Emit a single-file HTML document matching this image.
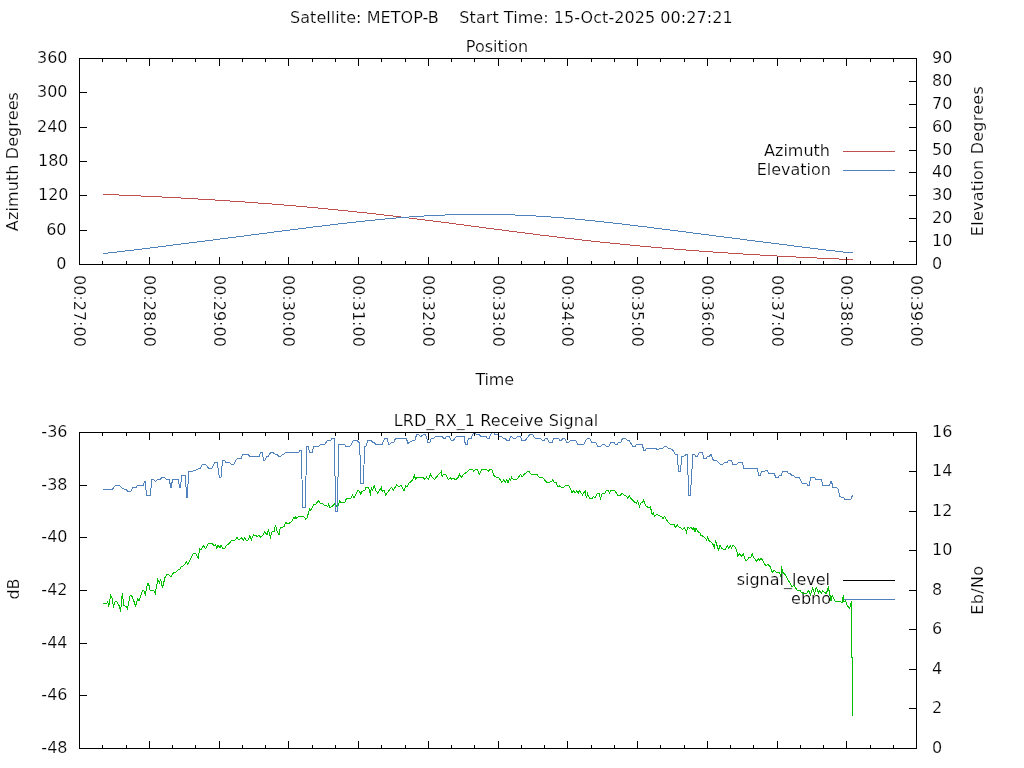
<!DOCTYPE html>
<html lang="en"><head><meta charset="utf-8"><title>Satellite: METOP-B</title>
<style>html,body{margin:0;padding:0;background:#fff;overflow:hidden}svg{display:block}text{font-family:"DejaVu Sans","Liberation Sans",sans-serif;font-size:16px;fill:#000;stroke:#fff;stroke-width:0.2px}.ln{shape-rendering:crispEdges;stroke-width:1;fill:none}</style>
</head><body>
<svg width="1024" height="768" viewBox="0 0 1024 768">
<rect width="1024" height="768" fill="#fff"/>
<!-- titles -->
<text x="511.3" y="23" text-anchor="middle" textLength="442.6" lengthAdjust="spacing">Satellite: METOP-B&#160;&#160;&#160;&#160;Start Time: 15-Oct-2025 00:27:21</text>
<text x="497" y="52" text-anchor="middle">Position</text>
<text x="496" y="426" text-anchor="middle" textLength="204.6" lengthAdjust="spacing">LRD_RX_1 Receive Signal</text>
<!-- y tick labels -->
<text x="66.5" y="269" text-anchor="end">0</text>
<text x="66.5" y="235" text-anchor="end">60</text>
<text x="68.5" y="200" text-anchor="end">120</text>
<text x="68.5" y="166" text-anchor="end">180</text>
<text x="67.5" y="132" text-anchor="end">240</text>
<text x="67.5" y="97" text-anchor="end">300</text>
<text x="67.5" y="63" text-anchor="end">360</text>
<text x="932" y="269">0</text>
<text x="932" y="246">10</text>
<text x="932" y="223">20</text>
<text x="932" y="200">30</text>
<text x="932" y="177">40</text>
<text x="932" y="155">50</text>
<text x="932" y="132">60</text>
<text x="932" y="109">70</text>
<text x="932" y="86">80</text>
<text x="932" y="63">90</text>
<text x="67.5" y="753" text-anchor="end">-48</text>
<text x="67.5" y="700" text-anchor="end">-46</text>
<text x="67.5" y="648" text-anchor="end">-44</text>
<text x="67.5" y="595" text-anchor="end">-42</text>
<text x="67.5" y="542" text-anchor="end">-40</text>
<text x="67.5" y="490" text-anchor="end">-38</text>
<text x="67.5" y="437" text-anchor="end">-36</text>
<text x="932" y="753">0</text>
<text x="932" y="713">2</text>
<text x="932" y="674">4</text>
<text x="932" y="634">6</text>
<text x="932" y="595">8</text>
<text x="932" y="555">10</text>
<text x="932" y="516">12</text>
<text x="932" y="476">14</text>
<text x="932" y="437">16</text>
<!-- x tick labels -->
<text x="74" y="275" transform="rotate(90 74 275)">00:27:00</text>
<text x="144" y="275" transform="rotate(90 144 275)">00:28:00</text>
<text x="214" y="275" transform="rotate(90 214 275)">00:29:00</text>
<text x="283" y="275" transform="rotate(90 283 275)">00:30:00</text>
<text x="353" y="275" transform="rotate(90 353 275)">00:31:00</text>
<text x="423" y="275" transform="rotate(90 423 275)">00:32:00</text>
<text x="493" y="275" transform="rotate(90 493 275)">00:33:00</text>
<text x="562" y="275" transform="rotate(90 562 275)">00:34:00</text>
<text x="632" y="275" transform="rotate(90 632 275)">00:35:00</text>
<text x="702" y="275" transform="rotate(90 702 275)">00:36:00</text>
<text x="772" y="275" transform="rotate(90 772 275)">00:37:00</text>
<text x="841" y="275" transform="rotate(90 841 275)">00:38:00</text>
<text x="911" y="275" transform="rotate(90 911 275)">00:39:00</text>
<!-- axis labels -->
<text x="494.8" y="385" text-anchor="middle" textLength="38.5" lengthAdjust="spacing">Time</text>
<text x="18" y="161.6" text-anchor="middle" transform="rotate(-90 18 161.6)" textLength="139.1" lengthAdjust="spacing">Azimuth Degrees</text>
<text x="983" y="161.2" text-anchor="middle" transform="rotate(-90 983 161.2)" textLength="149.9" lengthAdjust="spacing">Elevation Degrees</text>
<text x="19" y="589" text-anchor="middle" transform="rotate(-90 19 589)">dB</text>
<text x="983" y="590.3" text-anchor="middle" transform="rotate(-90 983 590.3)" textLength="48.7" lengthAdjust="spacing">Eb/No</text>
<!-- keys -->
<text x="830" y="156" text-anchor="end">Azimuth</text>
<text x="831" y="175" text-anchor="end">Elevation</text>
<text x="830" y="585" text-anchor="end">signal_level</text>
<text x="831" y="604" text-anchor="end">ebno</text>
<g class="ln">
<path stroke="#c0504d" d="M843 151.5H895"/>
<path stroke="#4f81bd" d="M843 170.5H895"/>
<path stroke="#000" d="M843 580.5H895"/>
<path stroke="#4f81bd" d="M843 599.5H895"/>
<!-- curves -->
<path stroke="#c0504d" stroke-linecap="square" d="M103.5 194.5L118.5 194.5L119.5 195.5L140.5 195.5L141.5 196.5L161.5 196.5L162.5 197.5L180.5 197.5L181.5 198.5L197.5 198.5L198.5 199.5L214.5 199.5L215.5 200.5L229.5 200.5L230.5 201.5L244.5 201.5L245.5 202.5L257.5 202.5L258.5 203.5L271.5 203.5L272.5 204.5L283.5 204.5L284.5 205.5L295.5 205.5L296.5 206.5L306.5 206.5L307.5 207.5L317.5 207.5L318.5 208.5L327.5 208.5L328.5 209.5L337.5 209.5L338.5 210.5L347.5 210.5L348.5 211.5L356.5 211.5L357.5 212.5L366.5 212.5L367.5 213.5L375.5 213.5L376.5 214.5L383.5 214.5L384.5 215.5L392.5 215.5L393.5 216.5L400.5 216.5L401.5 217.5L408.5 217.5L409.5 218.5L416.5 218.5L417.5 219.5L424.5 219.5L425.5 220.5L432.5 220.5L433.5 221.5L440.5 221.5L441.5 222.5L448.5 222.5L449.5 223.5L455.5 223.5L456.5 224.5L463.5 224.5L464.5 225.5L470.5 225.5L471.5 226.5L478.5 226.5L479.5 227.5L485.5 227.5L486.5 228.5L493.5 228.5L494.5 229.5L501.5 229.5L502.5 230.5L508.5 230.5L509.5 231.5L516.5 231.5L517.5 232.5L524.5 232.5L525.5 233.5L532.5 233.5L533.5 234.5L539.5 234.5L540.5 235.5L548.5 235.5L549.5 236.5L556.5 236.5L557.5 237.5L564.5 237.5L565.5 238.5L573.5 238.5L574.5 239.5L581.5 239.5L582.5 240.5L590.5 240.5L591.5 241.5L599.5 241.5L600.5 242.5L609.5 242.5L610.5 243.5L619.5 243.5L620.5 244.5L629.5 244.5L630.5 245.5L639.5 245.5L640.5 246.5L650.5 246.5L651.5 247.5L661.5 247.5L662.5 248.5L673.5 248.5L674.5 249.5L685.5 249.5L686.5 250.5L698.5 250.5L699.5 251.5L712.5 251.5L713.5 252.5L727.5 252.5L728.5 253.5L742.5 253.5L743.5 254.5L759.5 254.5L760.5 255.5L776.5 255.5L777.5 256.5L795.5 256.5L796.5 257.5L816.5 257.5L817.5 258.5L838.5 258.5L839.5 259.5L852.5 259.5"/>
<path stroke="#4f81bd" stroke-linecap="square" d="M103.5 253.5L107.5 253.5L108.5 252.5L116.5 252.5L117.5 251.5L124.5 251.5L125.5 250.5L133.5 250.5L134.5 249.5L141.5 249.5L142.5 248.5L149.5 248.5L150.5 247.5L157.5 247.5L158.5 246.5L165.5 246.5L166.5 245.5L172.5 245.5L173.5 244.5L180.5 244.5L181.5 243.5L188.5 243.5L189.5 242.5L196.5 242.5L197.5 241.5L204.5 241.5L205.5 240.5L212.5 240.5L213.5 239.5L219.5 239.5L220.5 238.5L227.5 238.5L228.5 237.5L235.5 237.5L236.5 236.5L243.5 236.5L244.5 235.5L250.5 235.5L251.5 234.5L258.5 234.5L259.5 233.5L266.5 233.5L267.5 232.5L273.5 232.5L274.5 231.5L281.5 231.5L282.5 230.5L289.5 230.5L290.5 229.5L297.5 229.5L298.5 228.5L305.5 228.5L306.5 227.5L312.5 227.5L313.5 226.5L321.5 226.5L322.5 225.5L329.5 225.5L330.5 224.5L337.5 224.5L338.5 223.5L346.5 223.5L347.5 222.5L355.5 222.5L356.5 221.5L364.5 221.5L365.5 220.5L374.5 220.5L375.5 219.5L384.5 219.5L385.5 218.5L395.5 218.5L396.5 217.5L408.5 217.5L409.5 216.5L423.5 216.5L424.5 215.5L444.5 215.5L445.5 214.5L514.5 214.5L515.5 215.5L535.5 215.5L536.5 216.5L550.5 216.5L551.5 217.5L563.5 217.5L564.5 218.5L574.5 218.5L575.5 219.5L584.5 219.5L585.5 220.5L594.5 220.5L595.5 221.5L603.5 221.5L604.5 222.5L612.5 222.5L613.5 223.5L621.5 223.5L622.5 224.5L629.5 224.5L630.5 225.5L637.5 225.5L638.5 226.5L646.5 226.5L647.5 227.5L653.5 227.5L654.5 228.5L661.5 228.5L662.5 229.5L669.5 229.5L670.5 230.5L677.5 230.5L678.5 231.5L685.5 231.5L686.5 232.5L692.5 232.5L693.5 233.5L700.5 233.5L701.5 234.5L708.5 234.5L709.5 235.5L715.5 235.5L716.5 236.5L723.5 236.5L724.5 237.5L731.5 237.5L732.5 238.5L739.5 238.5L740.5 239.5L746.5 239.5L747.5 240.5L754.5 240.5L755.5 241.5L762.5 241.5L763.5 242.5L770.5 242.5L771.5 243.5L778.5 243.5L779.5 244.5L786.5 244.5L787.5 245.5L793.5 245.5L794.5 246.5L801.5 246.5L802.5 247.5L809.5 247.5L810.5 248.5L817.5 248.5L818.5 249.5L825.5 249.5L826.5 250.5L834.5 250.5L835.5 251.5L842.5 251.5L843.5 252.5L852.5 252.5"/>
<path stroke="#00c000" stroke-linecap="square" d="M103.12 603.5L106.88 603.12L107.75 601.5L108.75 606.88L110.62 595.25L111.88 597.5L113.5 606.25L115.25 601.25L116.88 601.5L119.38 606.25L120.62 611.5L122.25 593.5L124 605.62L126.25 606.25L127.5 608.5L130 595.62L131.5 595.25L133.5 600L135.62 606.25L137.5 598.75L139 600.62L142.5 591L143.75 590.62L145.25 595L147.5 583.12L148.5 583.12L150 590L153.75 590.62L155.25 593.5L157.75 579.75L159.38 583.12L160.62 579.75L162.5 587.5L165 577.5L166.88 574.38L168.75 574.38L171 577.25L173.12 573.12L175.62 572.25L178.12 569.75L180 569L181.5 566.5L183.75 565.62L186.25 561.88L187.75 564.38L193.12 553.75L195.62 553.12L198.12 558.5L199.75 548.75L201 549.38L203.5 545.62L205.62 548.5L208.12 543.75L210 543.12L211.88 543.5L214.38 545.62L215.62 545L216.88 548.5L218.12 545.25L220 548.12L221 545.62L223.12 548.5L225 548.12L226.25 545.25L228 544.38L229.62 543.12L231.5 540.62L235.25 540L237.12 537.5L239 540L241.5 537.75L243.38 540L244.62 538.12L246.5 540.25L248.38 540L250 535.62L251.25 540.25L253.38 535L255.88 535.25L256.75 536.88L259 535.25L260.88 537.25L262.75 535.62L264.62 531.88L267.12 535L268.38 530L270.5 537.25L272.12 531.25L274 531.88L275.5 524.75L277.12 531.25L279 535L280.25 528.12L282.12 527.25L284 526.5L285.88 522.5L287.75 524L291.5 521.88L294 516.88L295 519.38L295.88 516.5L296.5 518.75L299 516.25L303.38 516.25L305.88 519.38L307.12 517.5L309.62 509L310.88 510.62L314 504.38L315.25 505L318.38 500.62L320.25 503.12L322.75 503.5L324 505L327.75 506.25L328.75 503.75L330 508.12L332.75 505.62L334.62 503.75L336.5 506.25L338.38 505L339.62 500.62L340.88 502.5L344.62 502.5L346.5 498.5L350.88 498.12L352.75 495L354 498.12L357.75 490.62L359.62 491.25L360.88 495L361.5 491.25L364.62 490.62L365.88 487.5L368.38 487.5L369.62 490.62L370.5 495.62L371.25 487.5L372.75 490L374.25 485.62L375.5 490L377.75 493.12L379.62 490L381.25 487.5L382.12 491.25L384 490L385.5 495L388.38 491.25L391.5 487.5L393.38 490L396.5 485L399 486.88L400.88 485L402.75 488.12L404 490.62L405.88 485.62L407.12 486.88L409 483.12L411.5 481.25L413 479.38L414.62 474.38L415.25 479.38L417.12 477.5L422.75 477.25L424.62 479.38L426.5 477.25L428.38 479.38L430.5 474.38L432.12 477.25L434.62 479.38L437.12 476.25L441.5 471.25L442.12 477.25L443.38 474L445.88 474.38L448.38 479.38L450.25 477.5L450.5 478.12L451.75 479.38L453.25 478.12L455.5 479.75L458 477.5L459.5 474.38L461.12 477.5L463.62 474.38L466.12 472.5L469.88 469.38L472.38 469.38L473.62 471.25L475.5 469.75L477.38 469.38L479.25 474L481.75 469.75L484.25 469L486.75 469.38L488.25 471.25L489.88 469.38L491.75 469.38L494.5 476.88L498.62 477.25L501.75 482.5L503.62 480L505.25 482.5L506.75 479.38L508 482.75L509.5 478.75L510.5 480L511.5 477.25L513.25 479.38L516.75 479.38L520.5 474.38L522 476.88L524.25 474.38L527.38 471.5L529.25 471.5L530.75 474L537.38 474.38L538.62 476.88L542.38 477.5L546.75 482.25L551.75 481.88L552.75 479.38L554 482.25L556.12 482.75L558 486.88L559.25 485.62L561.12 487.25L563.62 487.25L566.12 485.25L568.62 485.62L571.12 490L572 492.5L573.5 490.62L575.12 493.12L576.75 490.62L578.25 493.12L579.5 490.62L581 493.12L582.62 495L585.12 490.62L586.38 498.12L587.62 493.75L589.5 498.12L592 498.5L593.25 496.25L595.12 498.12L597 493.75L598.88 493.12L600.5 498.12L602 493.75L604.75 493.12L606.38 490.62L608.25 490.25L609.5 493.12L611 490.25L614.5 490.25L617.62 495L620.75 495L622.25 493.12L623.88 495L625.75 495.62L627.62 498.12L629.25 495.62L630.75 498.12L634.5 501.88L636.38 503.5L637.62 500.62L639.5 506.25L640.75 503.12L642 502.75L643.5 500.25L645.75 505.62L648.88 508.12L650.5 506.88L652 514.38L653.25 513.12L654.5 516.25L657 514L659.5 516L661.38 516.25L663.25 518.75L664.5 516.5L668.25 522.5L670.75 524.38L673.88 524.38L675.5 527.25L677.25 524.75L678.88 526.88L680.75 527.5L682.25 529.38L684.5 527.75L686.38 532.25L687.62 527.75L689.5 528.12L691.38 527.5L693 529.75L693.88 527.75L695.12 532.25L696 527.75L697.62 531.5L700 533.12L701 535.62L703.5 536.25L706.62 540L707.5 537.5L709.12 540.62L711.62 542.5L713.5 545L714.5 548.5L715.38 540L716.62 544.38L718.5 550L720 545.62L722.25 548.75L724.75 550L727.25 545.62L728.75 548.12L730.38 545.62L731.62 548.12L732.88 545L734.75 546.88L736.62 550L737.88 556.25L739.12 553.75L741.62 556.25L743.5 553.75L745.38 560.62L747.25 560L749.12 557.5L751 556.88L752.25 553.75L753.75 557.5L756.62 561.25L758.5 558.75L759.75 560.62L761 558.12L762.88 560.62L766 566.25L767.88 564.38L770.38 566.88L772.25 572.5L774.12 570L775.38 571.88L777.25 572.25L779.5 572.5L780.75 576.88L781.62 566.25L782.5 571.88L785.38 575L788.5 580.62L791.62 585.62L792 586.8L793.95 585.23L795.52 587.97L797.47 590.31L800.2 590.7L801.38 592.66L803.72 593.44L806.84 593.05L808.8 590.7L810.36 595L812.7 587.97L814.66 593.44L816.22 587.58L818.56 592.66L819.73 590.7L821.3 593.44L822.86 590.7L824.81 592.66L826.38 593.44L828.33 587.58L829.5 592.66L831.06 601.25L832.23 595.39L834.97 601.25L840.44 601.25L842 603.2L843.41 595.39L843.95 601.25L845.52 600.86L847.47 605.94L849.81 608.28L851.38 601.25L851.5 657.5L852.5 657.5L852.5 715"/>
<path stroke="#4f81bd" stroke-linecap="square" d="M103.12 489.5L112.25 489.5L115.25 485.5L119.38 485.5L123.12 488.75L126.25 489.5L127.75 491.25L131 491.25L132.75 487.5L136.25 487.25L137.5 485.5L143.12 485.5L144.75 481.25L145.25 481.25L146.5 495.25L150.25 495.25L151.88 479.5L153.12 479.5L155.62 481.5L157.5 479.75L160 479.5L162.5 477.25L164.38 477.25L166.25 479.5L169.38 479.5L170.62 487.25L171.25 487.25L172.5 479.5L178.12 479.5L179.62 487.25L180.25 487.25L181.88 475.5L185.38 475.5L186.62 497.5L187.25 497.5L188.75 471.5L192.5 471.25L196.25 470L198.75 468.5L200.62 468.25L202.25 464.5L205.62 464.5L208.75 468.25L211.88 468.25L215 462.5L217.25 462.5L219.38 477.25L221 477.25L222.5 460.25L224.38 460.25L225.62 462.25L229.38 462.25L231 464.25L234 464.25L235.62 460.25L237.5 458.5L241.25 458.25L242.75 454.5L248.12 454.5L249.75 456.25L259.38 456.25L260.62 452.5L262.12 452.5L263.75 460.25L265 460.25L266.5 456.5L268.12 456.25L270.62 452.5L273.12 452.5L275 454.25L277.25 454.5L278.75 456.25L281 456.25L282.5 454.5L284 454.25L285.62 452.5L298.75 452.5L300 450.25L301.25 450.25L301.5 450.5L302.5 507.5L305.5 507.5L306.5 446.5L306.62 446.25L308.12 446.25L309.75 452.5L312.25 452.5L313.75 446.5L318.75 446.25L320.62 444.5L325 444.25L327.25 440.5L330.62 440.25L331.88 438.5L334.38 438.5L334.5 438.5L335.5 511.5L337.5 511.5L338.5 444.5L338.75 444.5L344.62 444.5L345.88 446.25L350 446.25L351.5 444.25L353.38 440.5L357.12 440.25L358.75 442.25L359.62 442.5L360.25 462.5L360.88 483.5L363.38 483.5L364 465L364.62 446.25L366.25 446L367.5 440.5L371.25 440.5L372.75 442.25L374.25 442.5L375.88 444.5L382.12 444.5L383.75 440.5L384.62 438.5L387.12 438.5L388.38 444L389.62 444.5L391.5 442.5L393.75 442.25L395.5 438.5L406.5 438.5L407.5 442.5L408 444.25L409 442.5L413.38 440.5L415 440.25L416.5 434.75L418.38 434.5L420.88 436.5L423.38 434.5L425.25 434.5L426.5 436.5L427.5 442.25L430 442.25L431.25 438.5L434 438.25L435.5 436.5L442.12 436.5L443.75 438.25L445.25 438.25L446.5 436.5L449 436.5L449.5 436.75L451.12 440.25L453.25 440.25L454.88 438.25L456.75 436.5L464.25 436.5L465.25 444.38L467.38 444.38L468.25 438.75L471.12 438.25L472.38 434.75L473.62 432.75L474.88 432.75L476.12 434.5L479.25 434.75L480.75 436.5L486.12 436.75L487.75 438.5L489.25 438.25L490.5 434.75L491.75 432.75L493.62 432.75L494.88 434.5L498 434.75L499.5 436.5L501.75 436.75L503.62 438.5L505.25 438.75L506.75 440.5L509.25 440.5L510.5 436.75L511.75 436.5L513.25 438.25L515.5 438.25L517 436.75L520.25 436.5L521.75 440.25L525.5 440.25L528 436.75L529.88 434.5L532.75 434.5L534.5 438L540.5 438.5L542 440.25L544.25 440.25L545.5 438.25L547.38 438.5L549.25 442.25L552.38 442.25L553.62 438.5L558.25 438.25L559.88 440.25L561.5 440.25L562.75 438.25L564.88 438.5L566.5 442.25L568.62 442.25L570.5 440.5L572 440.25L575.75 440.5L577.62 444.25L583.88 444.25L585.75 440.5L587.62 438.25L589.75 438.25L591.38 442L595.75 442.5L597.62 446.25L601 446.25L602.62 444.25L604.75 444.5L606.38 446.5L608.88 446.5L610.5 442.5L613.88 442.5L615.5 444.5L617.25 444.25L618.5 442.5L620.75 442.25L622.62 438.25L625.12 438.25L627 440.25L629.25 440.75L632.62 446.25L635.12 446.25L636.38 444.5L642 444.25L643.88 450.25L645.12 450.25L646.38 448.25L655.75 448.25L658 450.25L659.5 448.5L662.62 448.25L664.5 446.25L666.38 446.25L668 448.25L670.75 448.5L673.25 450.75L675.12 454.5L677.25 454.75L678.5 471.5L680.5 471.5L681.75 456.25L684.5 456L685.75 454.5L687.62 454.5L688 475L688.88 495.62L690.5 495.62L691 485L692.25 465L693 454.5L694.5 454.25L695.75 456.25L697 456.25L697.5 456.25L699.12 452.5L702.25 452.5L703.75 458.25L706.25 458.25L707.5 456.5L709.5 456.25L711 454.5L713.25 460L716 460.25L720.38 464.25L722.88 464.25L724.5 462.5L727.25 462.25L728.5 460.25L731.25 460.25L732.88 464.25L737 464.25L738.5 462.5L742.25 462.5L743.75 468.25L757.25 468.25L758.75 475.25L760.38 475.25L761.62 471.5L764.5 471.25L765.75 470.25L767.25 470.5L768.75 473.25L774.12 473.5L776 477.5L778.25 477.5L779.5 475.5L781.25 475.25L782.88 471.25L786.62 471.25L788.5 473.25L790 473.5L791.62 475.25L793.5 475.5L795 477.25L799.12 477.5L802.25 483.12L806.62 483.5L807.88 485.25L809.12 485.25L810.75 477.5L814.5 477.5L816 479.5L821.25 479.5L822.88 485.25L829.5 485.25L830.75 481.5L831.62 481.75L832.88 487.25L836.62 487.25L838.25 489.5L839.75 496.88L843.5 497.25L844.75 499.25L851 499.25L852.5 495.25"/>
</g>
<!-- borders and tics -->
<path class="ln" stroke="#000" d="M79.5 58.5H916.5V264.5H79.5ZM102.5 261V265M102.5 58V62M126.5 261V265M126.5 58V62M149.5 257V265M149.5 58V66M172.5 261V265M172.5 58V62M195.5 261V265M195.5 58V62M219.5 257V265M219.5 58V66M242.5 261V265M242.5 58V62M265.5 261V265M265.5 58V62M288.5 257V265M288.5 58V66M312.5 261V265M312.5 58V62M335.5 261V265M335.5 58V62M358.5 257V265M358.5 58V66M381.5 261V265M381.5 58V62M405.5 261V265M405.5 58V62M428.5 257V265M428.5 58V66M451.5 261V265M451.5 58V62M474.5 261V265M474.5 58V62M498.5 257V265M498.5 58V66M521.5 261V265M521.5 58V62M544.5 261V265M544.5 58V62M567.5 257V265M567.5 58V66M591.5 261V265M591.5 58V62M614.5 261V265M614.5 58V62M637.5 257V265M637.5 58V66M660.5 261V265M660.5 58V62M684.5 261V265M684.5 58V62M707.5 257V265M707.5 58V66M730.5 261V265M730.5 58V62M753.5 261V265M753.5 58V62M777.5 257V265M777.5 58V66M800.5 261V265M800.5 58V62M823.5 261V265M823.5 58V62M846.5 257V265M846.5 58V66M870.5 261V265M870.5 58V62M893.5 261V265M893.5 58V62M79.5 432.5H916.5V748.5H79.5ZM102.5 745V749M102.5 432V436M126.5 745V749M126.5 432V436M149.5 741V749M149.5 432V440M172.5 745V749M172.5 432V436M195.5 745V749M195.5 432V436M219.5 741V749M219.5 432V440M242.5 745V749M242.5 432V436M265.5 745V749M265.5 432V436M288.5 741V749M288.5 432V440M312.5 745V749M312.5 432V436M335.5 745V749M335.5 432V436M358.5 741V749M358.5 432V440M381.5 745V749M381.5 432V436M405.5 745V749M405.5 432V436M428.5 741V749M428.5 432V440M451.5 745V749M451.5 432V436M474.5 745V749M474.5 432V436M498.5 741V749M498.5 432V440M521.5 745V749M521.5 432V436M544.5 745V749M544.5 432V436M567.5 741V749M567.5 432V440M591.5 745V749M591.5 432V436M614.5 745V749M614.5 432V436M637.5 741V749M637.5 432V440M660.5 745V749M660.5 432V436M684.5 745V749M684.5 432V436M707.5 741V749M707.5 432V440M730.5 745V749M730.5 432V436M753.5 745V749M753.5 432V436M777.5 741V749M777.5 432V440M800.5 745V749M800.5 432V436M823.5 745V749M823.5 432V436M846.5 741V749M846.5 432V440M870.5 745V749M870.5 432V436M893.5 745V749M893.5 432V436M79 264.5H87M79 230.5H87M79 195.5H87M79 161.5H87M79 127.5H87M79 92.5H87M79 58.5H87M909 264.5H917M909 241.5H917M909 218.5H917M909 195.5H917M909 172.5H917M909 150.5H917M909 127.5H917M909 104.5H917M909 81.5H917M909 58.5H917M79 748.5H87M79 695.5H87M79 643.5H87M79 590.5H87M79 537.5H87M79 485.5H87M79 432.5H87M909 748.5H917M909 708.5H917M909 669.5H917M909 629.5H917M909 590.5H917M909 550.5H917M909 511.5H917M909 471.5H917M909 432.5H917"/>
</svg></body></html>
